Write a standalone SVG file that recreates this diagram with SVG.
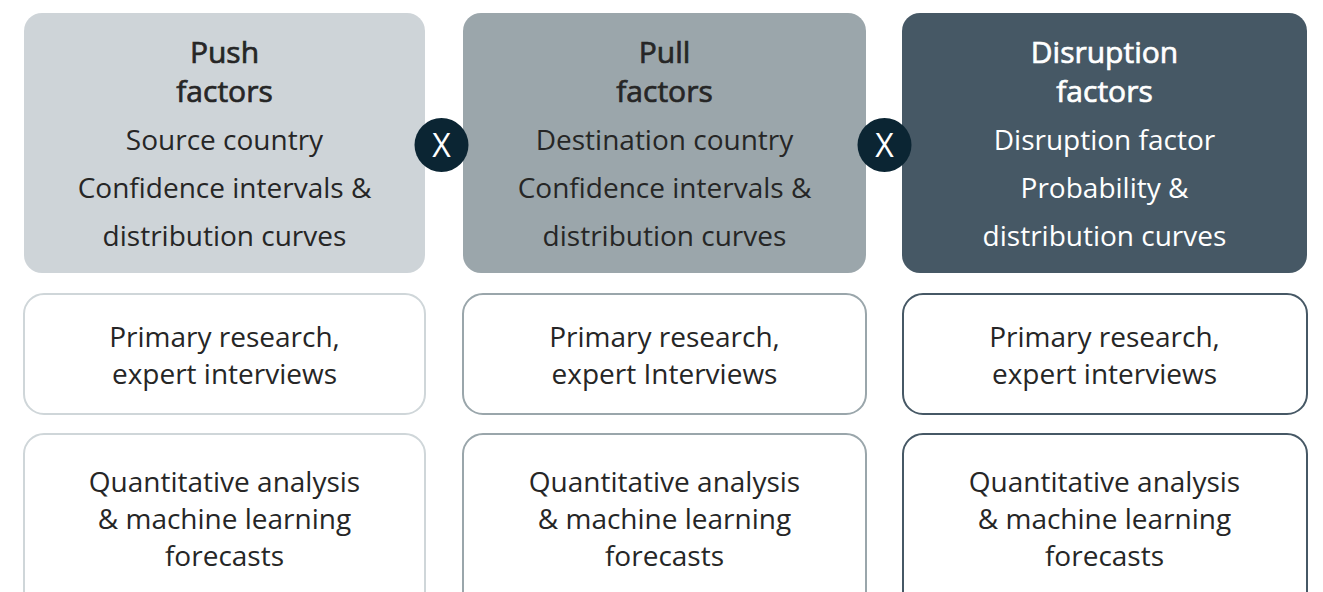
<svg xmlns="http://www.w3.org/2000/svg" width="1323" height="592" viewBox="0 0 1323 592">
  <style>
    text { font-family: "Open Sans", "Liberation Sans", sans-serif; text-anchor: middle; fill: #262626; }
    .title { font-size: 30px; font-weight: 400; stroke: #262626; stroke-width: 0.7; }
    .body { font-size: 28px; }
    .light text { fill: #ffffff; }
    .light .title { stroke: #ffffff; }
    .op { font-size: 32px; }
    .card { stroke-width: 2; fill: #ffffff; }
  </style>
  <rect width="1323" height="592" fill="#ffffff"/>

  <!-- Factor headers -->
  <g id="push">
    <rect x="24" y="13" width="401" height="260" rx="18" fill="#ced4d8"/>
    <text class="title" x="224.5" y="63">Push</text>
    <text class="title" x="224.5" y="102">factors</text>
    <text class="body" x="224.5" y="150">Source country</text>
    <text class="body" x="224.5" y="198">Confidence intervals &amp;</text>
    <text class="body" x="224.5" y="246">distribution curves</text>
  </g>
  <g id="pull">
    <rect x="463" y="13" width="403" height="260" rx="18" fill="#9ba6ab"/>
    <text class="title" x="664.5" y="63">Pull</text>
    <text class="title" x="664.5" y="102">factors</text>
    <text class="body" x="664.5" y="150">Destination country</text>
    <text class="body" x="664.5" y="198">Confidence intervals &amp;</text>
    <text class="body" x="664.5" y="246">distribution curves</text>
  </g>
  <g id="disruption" class="light">
    <rect x="902" y="13" width="405" height="260" rx="18" fill="#465865"/>
    <text class="title" x="1104.5" y="63">Disruption</text>
    <text class="title" x="1104.5" y="102">factors</text>
    <text class="body" x="1104.5" y="150">Disruption factor</text>
    <text class="body" x="1104.5" y="198">Probability &amp;</text>
    <text class="body" x="1104.5" y="246">distribution curves</text>
  </g>

  <!-- Multiplication operators -->
  <g id="times-1" class="light">
    <circle cx="441.5" cy="145" r="27" fill="#0b2533"/>
    <text class="op" x="441.5" y="156.5">X</text>
  </g>
  <g id="times-2" class="light">
    <circle cx="884.5" cy="145" r="27" fill="#0b2533"/>
    <text class="op" x="884.5" y="156.5">X</text>
  </g>

  <!-- Research sources -->
  <g id="push-research">
    <rect class="card" x="24" y="294" width="401" height="120" rx="20" stroke="#cfd6d9"/>
    <text class="body" x="224.5" y="347">Primary research,</text>
    <text class="body" x="224.5" y="384">expert interviews</text>
  </g>
  <g id="pull-research">
    <rect class="card" x="463" y="294" width="403" height="120" rx="20" stroke="#9aa6ab"/>
    <text class="body" x="664.5" y="347">Primary research,</text>
    <text class="body" x="664.5" y="384">expert Interviews</text>
  </g>
  <g id="disruption-research">
    <rect class="card" x="903" y="294" width="404" height="120" rx="20" stroke="#465865"/>
    <text class="body" x="1104.5" y="347">Primary research,</text>
    <text class="body" x="1104.5" y="384">expert interviews</text>
  </g>

  <!-- Quantitative sources -->
  <g id="push-quant">
    <rect class="card" x="24" y="434" width="401" height="180" rx="20" stroke="#cfd6d9"/>
    <text class="body" x="224.5" y="492">Quantitative analysis</text>
    <text class="body" x="224.5" y="529">&amp; machine learning</text>
    <text class="body" x="224.5" y="566">forecasts</text>
  </g>
  <g id="pull-quant">
    <rect class="card" x="463" y="434" width="403" height="180" rx="20" stroke="#9aa6ab"/>
    <text class="body" x="664.5" y="492">Quantitative analysis</text>
    <text class="body" x="664.5" y="529">&amp; machine learning</text>
    <text class="body" x="664.5" y="566">forecasts</text>
  </g>
  <g id="disruption-quant">
    <rect class="card" x="903" y="434" width="404" height="180" rx="20" stroke="#465865"/>
    <text class="body" x="1104.5" y="492">Quantitative analysis</text>
    <text class="body" x="1104.5" y="529">&amp; machine learning</text>
    <text class="body" x="1104.5" y="566">forecasts</text>
  </g>

  <g id="connectors"/>
</svg>
